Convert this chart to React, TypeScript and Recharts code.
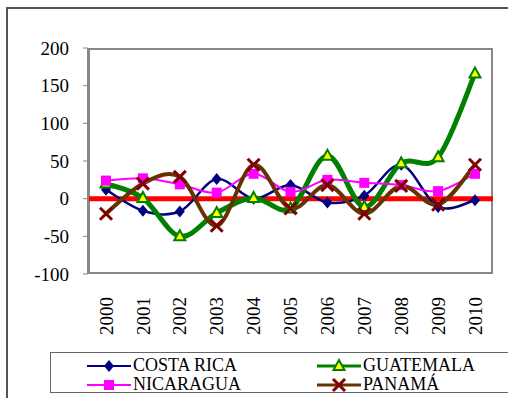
import React from "react";
import { LineChart, Line, XAxis, YAxis, ReferenceLine } from "recharts";

const years = ["2000", "2001", "2002", "2003", "2004", "2005", "2006", "2007", "2008", "2009", "2010"];
const costaRica = [12, -16, -17, 26, 0, 18, -5, 4, 45, -11, -2];
const guatemala = [20, 1, -50, -19, 1, -13, 57, -11, 47, 55, 166];
const nicaragua = [24, 27, 19, 8, 33, 9, 25, 21, 18, 10, 33];
const panama = [-20, 20, 29, -36, 45, -13, 18, -20, 17, -8, 45];
const yTicks = [-100, -50, 0, 50, 100, 150, 200];

const chartData = years.map((year, i) => ({
  year,
  costaRica: costaRica[i],
  guatemala: guatemala[i],
  nicaragua: nicaragua[i],
  panama: panama[i],
}));

const FONT = "'Liberation Serif', serif";

// Excel style smoothing (Catmull-Rom through the points)
const excelSmooth = (context: any) => {
  let pts: [number, number][] = [];
  return {
    areaStart() {},
    areaEnd() {},
    lineStart() {
      pts = [];
    },
    point(x: number, y: number) {
      pts.push([+x, +y]);
    },
    lineEnd() {
      if (!pts.length) return;
      context.moveTo(pts[0][0], pts[0][1]);
      for (let i = 0; i < pts.length - 1; i++) {
        const p0 = pts[Math.max(i - 1, 0)];
        const p1 = pts[i];
        const p2 = pts[i + 1];
        const p3 = pts[Math.min(i + 2, pts.length - 1)];
        context.bezierCurveTo(
          p1[0] + (p2[0] - p0[0]) / 6,
          p1[1] + (p2[1] - p0[1]) / 6,
          p2[0] - (p3[0] - p1[0]) / 6,
          p2[1] - (p3[1] - p1[1]) / 6,
          p2[0],
          p2[1]
        );
      }
    },
  };
};

type Shape = "diamond" | "triangle" | "square" | "cross";

const Marker = ({ shape, cx, cy }: { shape: Shape; cx: number; cy: number }) => {
  if (shape === "diamond")
    return <polygon points={`${cx},${cy - 6} ${cx + 5},${cy} ${cx},${cy + 6} ${cx - 5},${cy}`} fill="#000080" />;
  if (shape === "square")
    return <rect x={cx - 5} y={cy - 5} width={10} height={10} fill="#ff00ff" />;
  if (shape === "triangle")
    return (
      <polygon
        points={`${cx},${cy - 6} ${cx + 5.5},${cy + 4} ${cx - 5.5},${cy + 4}`}
        fill="#ffff00"
        stroke="#008000"
        strokeWidth={2}
      />
    );
  return (
    <g stroke="#800000" strokeWidth={3}>
      <line x1={cx - 6} y1={cy - 6} x2={cx + 6} y2={cy + 6} />
      <line x1={cx - 6} y1={cy + 6} x2={cx + 6} y2={cy - 6} />
    </g>
  );
};

const seriesList: { key: string; name: string; color: string; width: number; legendWidth: number; shape: Shape }[] = [
  { key: "costaRica", name: "COSTA RICA", color: "#000080", width: 2.5, legendWidth: 2, shape: "diamond" },
  { key: "guatemala", name: "GUATEMALA", color: "#008000", width: 5, legendWidth: 3, shape: "triangle" },
  { key: "nicaragua", name: "NICARAGUA", color: "#ff00ff", width: 2, legendWidth: 2, shape: "square" },
  { key: "panama", name: "PANAMÁ", color: "#663300", width: 4, legendWidth: 3, shape: "cross" },
];

const YearTick = (props: any) => {
  const { x, y, payload } = props;
  return (
    <text
      x={0}
      y={0}
      dy="0.35em"
      textAnchor="end"
      fontSize={19}
      fill="#000"
      fontFamily={FONT}
      transform={`translate(${x},${y + 15}) rotate(-90)`}
    >
      {payload.value}
    </text>
  );
};

const LegendBox = () => (
  <div
    style={{
      position: "absolute",
      left: 50,
      top: 352,
      width: 470,
      height: 41,
      border: "1px solid #666",
      display: "grid",
      gridTemplateColumns: "230px 230px",
      gridTemplateRows: "19px 19px",
      padding: "3px 0 0 36px",
      boxSizing: "border-box",
      fontFamily: FONT,
      fontSize: 18,
      lineHeight: "19px",
    }}
  >
    {seriesList.map((s) => (
      <div key={s.key} style={{ display: "flex", alignItems: "center" }}>
        <svg width={44} height={16} style={{ marginRight: 2 }}>
          <line x1={0} y1={8} x2={44} y2={8} stroke={s.color} strokeWidth={s.legendWidth} />
          <Marker shape={s.shape} cx={22} cy={8} />
        </svg>
        <span>{s.name}</span>
      </div>
    ))}
  </div>
);

export default function App() {
  return (
    <div
      style={{
        position: "absolute",
        left: 0,
        top: 0,
        width: 508,
        height: 398,
        overflow: "hidden",
        background: "#fff",
      }}
    >
      <div
        style={{
          position: "absolute",
          left: 6,
          top: 7,
          width: 520,
          height: 420,
          borderLeft: "2px solid #555",
          borderTop: "2px solid #555",
        }}
      />
      <div
        style={{
          position: "absolute",
          left: 88,
          top: 48,
          width: 405,
          height: 226,
          border: "2px solid #888",
          boxSizing: "border-box",
        }}
      />
      <div style={{ position: "absolute", left: 0, top: 0 }}>
        <LineChart width={508} height={398} data={chartData} margin={{ top: 48, right: 15, bottom: 64, left: 20 }}>
          <XAxis
            dataKey="year"
            padding={{ left: 18, right: 18 }}
            axisLine={false}
            tickLine={false}
            height={60}
            interval={0}
            tick={<YearTick />}
          />
          <YAxis
            width={68}
            domain={[-100, 200]}
            ticks={yTicks}
            interval={0}
            axisLine={{ stroke: "#888", strokeWidth: 2 }}
            tickLine={{ stroke: "#888" }}
            tickSize={5}
            tickMargin={14}
            tick={{ fontSize: 19, fill: "#000", fontFamily: FONT }}
          />
          <ReferenceLine y={0} stroke="#ff0000" strokeWidth={5} />
          {seriesList.map((s) => (
            <Line
              key={s.key}
              dataKey={s.key}
              name={s.name}
              type={excelSmooth as any}
              stroke={s.color}
              strokeWidth={s.width}
              dot={(p: any) => <Marker key={`${s.key}-${p.index}`} shape={s.shape} cx={p.cx} cy={p.cy} />}
              activeDot={false}
              isAnimationActive={false}
            />
          ))}
        </LineChart>
      </div>
      <LegendBox />
    </div>
  );
}
